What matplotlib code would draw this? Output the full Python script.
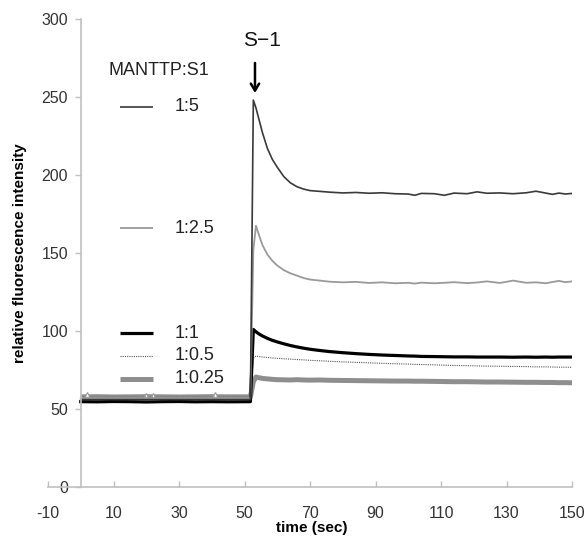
import matplotlib.pyplot as plt
from matplotlib.lines import Line2D

plt.rcParams['font.family'] = ['Liberation Sans', 'DejaVu Sans']
plt.rcParams['axes.unicode_minus'] = False

# time points (sec)
t = [0, 5, 10, 15, 20, 25, 30, 35, 40, 45, 51.8,
     52.7, 53.5, 54.5, 55.5, 57, 58.5, 60,
     62, 64, 66, 68, 70, 73, 76,
     80, 84, 88, 92, 96, 100, 102, 104, 108,
     111, 114, 118, 121, 124, 128,
     132, 136, 139, 142, 144, 146, 148, 150]

r_1_5 = [56] * 11 + [
    248, 243, 235, 227, 217, 210, 205,
    199, 195, 192.5, 191, 190, 189.5, 189,
    188.5, 188.8, 188.3, 188.6, 188, 187.8, 187, 188.2, 188,
    187, 188.4, 188, 189.2, 188.3, 188.5,
    188, 188.6, 189.6, 188.4, 187.6, 188.4, 187.8, 188.2]

r_1_2p5 = [57] * 11 + [
    152, 167.5, 161, 155, 149, 145, 142,
    139, 137, 135.5, 134, 133, 132.3, 131.6,
    131.2, 131.5, 130.8, 131.2, 130.6, 130.9, 130.4, 131, 130.6,
    130.9, 131.3, 130.7, 131.1, 131.8, 130.8,
    132.3, 130.9, 131.2, 130.6, 131.4, 132.1, 131.3, 131.8]

r_1_1 = [54.7, 54.6, 54.8, 54.7, 54.5, 54.7, 54.8, 54.6, 54.7, 54.6, 54.7,
         101, 99.5, 98, 96.8, 95.3, 94, 93,
         91.8, 90.7, 89.8, 89, 88.3, 87.5, 86.8,
         86.1, 85.5, 85, 84.6, 84.3, 84, 83.9, 83.7, 83.6,
         83.5, 83.4, 83.4, 83.3, 83.3, 83.3,
         83.2, 83.3, 83.2, 83.3, 83.2, 83.3, 83.3, 83.3]

r_1_0p5 = [57.5] * 11 + [
    82.5, 84, 83.6, 83.3, 83, 82.7, 82.5,
    82.2, 82, 81.7, 81.5, 81.2, 80.9, 80.6,
    80.2, 79.9, 79.6, 79.3, 79, 78.8, 78.6, 78.5, 78.3,
    78.1, 77.9, 77.8, 77.6, 77.5, 77.4,
    77.3, 77.2, 77, 77, 76.9, 76.8, 76.8, 76.7]

r_1_0p25 = [57.8, 57.9, 57.7, 57.8, 57.9, 57.8, 57.7, 57.8, 57.9, 57.8, 57.8,
            67.5, 70.5, 70, 69.6, 69.3, 69, 68.8,
            68.7, 68.6, 68.8, 68.6, 68.5, 68.6, 68.4,
            68.3, 68.2, 68.1, 68, 67.9, 67.9, 67.8, 67.8, 67.7,
            67.6, 67.5, 67.5, 67.4, 67.3, 67.3,
            67.2, 67.1, 67.1, 67, 67, 66.9, 66.9, 66.8]

# stray marker glyphs on the baseline
mark_t = [1.8, 19.8, 22, 41]
mark_y = [59, 58.5, 58.5, 59]

labels = ['1:5', '1:2.5', '1:1', '1:0.5', '1:0.25']
label_y = [0.812, 0.553, 0.329, 0.280, 0.231]

styles = {
    '1:5': dict(color='#3a3a3a', lw=1.2, ls='-'),
    '1:2.5': dict(color='#9a9a9a', lw=1.3, ls='-'),
    '1:1': dict(color='black', lw=2.3, ls='-'),
    '1:0.5': dict(color='#555555', lw=0.8, ls=(0, (1, 1))),
    '1:0.25': dict(color='#8e8e8e', lw=3.6, ls='-'),
}

fig = plt.figure(figsize=(5.86, 5.41), dpi=100)
ax = fig.add_axes([48 / 586, 54 / 541, 524 / 586, 468 / 541])

ax.plot(t, r_1_0p25, solid_capstyle='butt', **styles['1:0.25'])
ax.plot(mark_t, mark_y, ls='none', marker='^', ms=4, mfc='white',
        mec='#999999', mew=0.8)
ax.plot(t, r_1_0p5, **styles['1:0.5'])
ax.plot(t, r_1_1, **styles['1:1'])
ax.plot(t, r_1_2p5, **styles['1:2.5'])
ax.plot(t, r_1_5, **styles['1:5'])

ax.set_xlim(-10, 150)
ax.set_ylim(0, 300)
ax.set_xticks(range(-10, 151, 20))
ax.set_yticks(range(0, 301, 50))

for s in ['top', 'right']:
    ax.spines[s].set_visible(False)
ax.spines['left'].set_position(('data', 0))
for s in ['left', 'bottom']:
    ax.spines[s].set_color('#c0c0c0')
    ax.spines[s].set_linewidth(1.2)

ax.tick_params(axis='y', direction='out', length=4, width=1, color='#c0c0c0',
               labelsize=11.5, labelcolor='#333333', pad=5)
ax.tick_params(axis='x', direction='in', length=4, width=1, color='#c0c0c0',
               labelsize=11.5, labelcolor='#333333', pad=14)

# manual legend like the original
ax.text(0.115, 0.891, 'MANTTP:S1', transform=ax.transAxes, fontsize=13,
        va='center', ha='left', color='#222222')
for lab, yy in zip(labels, label_y):
    st = styles[lab]
    ax.add_line(Line2D([0.137, 0.200], [yy, yy], transform=ax.transAxes,
                       color=st['color'], lw=st['lw'], ls=st['ls'],
                       solid_capstyle='butt'))
    ax.text(0.242, yy, lab, transform=ax.transAxes, fontsize=13,
            va='center', ha='left', color='#222222')

ax.text(0.408, 0.955, 'S\u22121', transform=ax.transAxes, fontsize=15,
        ha='center', va='center', color='#111111')
ax.annotate('', xy=(0.395, 0.836), xytext=(0.395, 0.912),
            xycoords='axes fraction',
            arrowprops=dict(arrowstyle='->,head_length=0.5,head_width=0.3',
                            lw=1.8, color='black'))

fig.text(20 / 586, 1 - 253 / 541, 'relative fluorescence intensity',
         rotation=90, ha='center', va='center', fontsize=11, fontweight='bold')
fig.text(312 / 586, 1 - 528 / 541, 'time (sec)', ha='center', va='center',
         fontsize=11, fontweight='bold')

fig.savefig('out.png', dpi=100)
